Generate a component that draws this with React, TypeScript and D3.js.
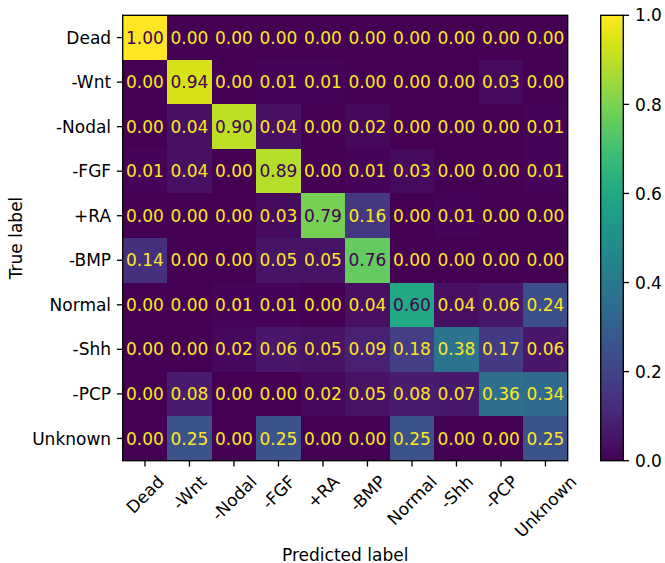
import React from "react";
import * as d3 from "d3";

const labels = ["Dead", "-Wnt", "-Nodal", "-FGF", "+RA", "-BMP", "Normal", "-Shh", "-PCP", "Unknown"];

const rowDead = [1.0, 0.0, 0.0, 0.0, 0.0, 0.0, 0.0, 0.0, 0.0, 0.0];
const rowWnt = [0.0, 0.94, 0.0, 0.01, 0.01, 0.0, 0.0, 0.0, 0.03, 0.0];
const rowNodal = [0.0, 0.04, 0.9, 0.04, 0.0, 0.02, 0.0, 0.0, 0.0, 0.01];
const rowFGF = [0.01, 0.04, 0.0, 0.89, 0.0, 0.01, 0.03, 0.0, 0.0, 0.01];
const rowRA = [0.0, 0.0, 0.0, 0.03, 0.79, 0.16, 0.0, 0.01, 0.0, 0.0];
const rowBMP = [0.14, 0.0, 0.0, 0.05, 0.05, 0.76, 0.0, 0.0, 0.0, 0.0];
const rowNormal = [0.0, 0.0, 0.01, 0.01, 0.0, 0.04, 0.6, 0.04, 0.06, 0.24];
const rowShh = [0.0, 0.0, 0.02, 0.06, 0.05, 0.09, 0.18, 0.38, 0.17, 0.06];
const rowPCP = [0.0, 0.08, 0.0, 0.0, 0.02, 0.05, 0.08, 0.07, 0.36, 0.34];
const rowUnknown = [0.0, 0.25, 0.0, 0.25, 0.0, 0.0, 0.25, 0.0, 0.0, 0.25];

const matrix = [rowDead, rowWnt, rowNodal, rowFGF, rowRA, rowBMP, rowNormal, rowShh, rowPCP, rowUnknown];

const colorbarTicks = [0.0, 0.2, 0.4, 0.6, 0.8, 1.0];

const W = 665;
const H = 563;
const FONT = "DejaVu Sans, Verdana, sans-serif";
const FS = 17;
const LW = 1.33;
const TICK = 5.8;
const PAD = 5.8;

function measure(text: string): number {
  try {
    const c = document.createElement("canvas");
    const ctx = c.getContext("2d");
    if (ctx) {
      ctx.font = `${FS}px "DejaVu Sans"`;
      return ctx.measureText(text).width;
    }
  } catch (e) {}
  return text.length * FS * 0.62;
}

export default function App() {
  const left = 122.7;
  const right = 567.7;
  const top = 15.3;
  const bottom = 460.7;

  const x = d3.scaleBand<string>().domain(labels).range([left, right]);
  const y = d3.scaleBand<string>().domain(labels).range([top, bottom]);
  const color = (v: number) => d3.interpolateViridis(v);
  const thresh = 0.5;

  const cbLeft = 600.7;
  const cbRight = 623.3;
  const cbY = d3.scaleLinear().domain([0, 1]).range([bottom, top]);
  const nSlices = 256;
  const slices = d3.range(nSlices).map((i) => i / nSlices);

  const textH = 17.5;

  return (
    <svg width={W} height={H} style={{ position: "absolute", left: 0, top: 0 }} fontFamily={FONT}>
      <rect x={0} y={0} width={W} height={H} fill="#fff" />
      {/* cells */}
      <g shapeRendering="crispEdges">
        {matrix.map((row, i) =>
          row.map((v, j) => (
            <rect
              key={`c${i}-${j}`}
              x={x(labels[j])!}
              y={y(labels[i])!}
              width={x.bandwidth() + 0.5}
              height={y.bandwidth() + 0.5}
              fill={color(v)}
            />
          ))
        )}
      </g>
      {/* cell text */}
      {matrix.map((row, i) =>
        row.map((v, j) => (
          <text
            key={`t${i}-${j}`}
            x={x(labels[j])! + x.bandwidth() / 2}
            y={y(labels[i])! + y.bandwidth() / 2}
            dy="0.36em"
            textAnchor="middle"
            fontSize={FS}
            fill={v < thresh ? d3.interpolateViridis(1) : d3.interpolateViridis(0)}
          >
            {v.toFixed(2)}
          </text>
        ))
      )}
      {/* frame */}
      <rect x={left} y={top} width={right - left} height={bottom - top} fill="none" stroke="#000" strokeWidth={LW} />
      {/* y ticks */}
      {labels.map((l) => {
        const cy = y(l)! + y.bandwidth() / 2;
        return (
          <g key={`y${l}`}>
            <line x1={left - TICK} x2={left} y1={cy} y2={cy} stroke="#000" strokeWidth={LW} />
            <text x={left - TICK - PAD} y={cy} dy="0.36em" textAnchor="end" fontSize={FS} fill="#000">
              {l}
            </text>
          </g>
        );
      })}
      {/* x ticks */}
      {labels.map((l) => {
        const cx = x(l)! + x.bandwidth() / 2;
        const w = measure(l);
        const half = (w + textH) / (2 * Math.SQRT2);
        const cy = bottom + TICK + PAD + half;
        return (
          <g key={`x${l}`}>
            <line x1={cx} x2={cx} y1={bottom} y2={bottom + TICK} stroke="#000" strokeWidth={LW} />
            <text
              transform={`translate(${cx},${cy}) rotate(-45)`}
              dy="0.36em"
              textAnchor="middle"
              fontSize={FS}
              fill="#000"
            >
              {l}
            </text>
          </g>
        );
      })}
      {/* axis labels */}
      <text x={(left + right) / 2} y={560.5} textAnchor="middle" fontSize={FS} fill="#000">
        Predicted label
      </text>
      <text
        transform={`translate(${21.5},${(top + bottom) / 2}) rotate(-90)`}
        textAnchor="middle"
        fontSize={FS}
        fill="#000"
      >
        True label
      </text>
      {/* colorbar */}
      <g shapeRendering="crispEdges">
        {slices.map((s) => (
          <rect
            key={`s${s}`}
            x={cbLeft}
            width={cbRight - cbLeft}
            y={cbY(s + 1 / nSlices)}
            height={cbY(s) - cbY(s + 1 / nSlices) + 0.6}
            fill={color(s + 0.5 / nSlices)}
          />
        ))}
      </g>
      <rect x={cbLeft} y={top} width={cbRight - cbLeft} height={bottom - top} fill="none" stroke="#000" strokeWidth={LW} />
      {colorbarTicks.map((t) => (
        <g key={`cb${t}`}>
          <line x1={cbRight} x2={cbRight + TICK} y1={cbY(t)} y2={cbY(t)} stroke="#000" strokeWidth={LW} />
          <text x={cbRight + TICK + PAD} y={cbY(t)} dy="0.36em" fontSize={FS} fill="#000">
            {t.toFixed(1)}
          </text>
        </g>
      ))}
    </svg>
  );
}
